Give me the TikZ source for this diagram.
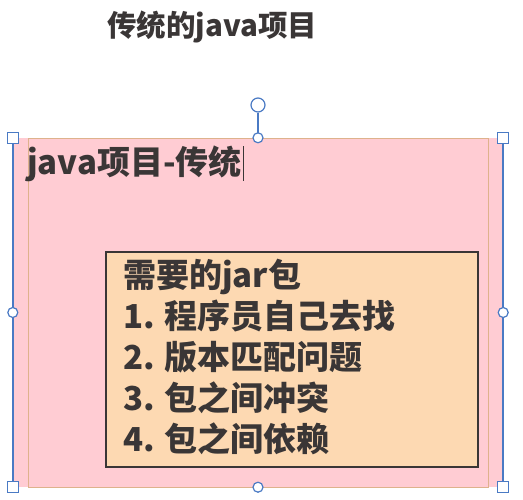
\documentclass[tikz,border=0pt]{standalone}
\usepackage{fontspec}
\usepackage{tikz}
\newfontfamily\cjk{Noto Sans CJK SC}
\definecolor{boxPink}{RGB}{255, 204, 211}
\definecolor{boxPeach}{RGB}{253, 217, 178}
\definecolor{edgeTan}{RGB}{222, 178, 140}
\definecolor{selBlue}{RGB}{74, 122, 196}
\definecolor{inkGray}{RGB}{58, 54, 54}

\begin{document}
\begin{tikzpicture}[x=1pt, y=-1pt,
    txt/.style={text=inkGray, inner sep=0pt, anchor=base west, font=\cjk\bfseries},
    sqhandle/.style={draw=selBlue, fill=white, line width=1.2pt, minimum size=11pt, inner sep=0pt},
    rdhandle/.style={circle, draw=selBlue, fill=white, line width=1.2pt, minimum size=10pt, inner sep=0pt}]
        \useasboundingbox (0,0) rectangle (523,499);
        \node[txt, font=\cjk\bfseries\fontsize{29.5}{29.5}\selectfont] (title) at (107,36) {传统的java项目};
        % the selected shape
        \node[fill=boxPink, minimum width=490pt, minimum height=349pt, inner sep=0pt] (proj) at (258,312.5) {};
        \node[draw=edgeTan, line width=1pt, minimum width=460pt, minimum height=349pt, inner sep=0pt] (edge) at (258,312.5) {};
        \draw[selBlue, line width=1.5pt] (proj.north west) -- (proj.south west);
        \draw[selBlue, line width=1.5pt] (proj.north east) -- (proj.south east);
        \node[txt, font=\cjk\bfseries\fontsize{33}{33}\selectfont] (head) at (27,174) {java项目-传统};
        \draw[inkGray, line width=0.8pt] ([xshift=1pt]head.east) ++(0,-17) -- ++(0,35);
        % inner list box
        \node[draw=inkGray, fill=boxPeach, line width=2.5pt, minimum width=372pt, minimum height=215pt, inner sep=0pt] (jars) at (292,359.5) {};
        \foreach \t [count=\i from 0] in {需要的jar包, 1. 程序员自己去找, 2. 版本匹配问题, 3. 包之间冲突, 4. 包之间依赖}
          \node[txt, font=\cjk\bfseries\fontsize{33}{33}\selectfont] (line\i) at (123,287+41*\i) {\t};
        % handles
        \node[rdhandle, minimum size=14pt] (rot) at (258,105) {};
        \draw[selBlue, line width=1.5pt] (rot) -- (proj.north);
        \foreach \a in {north west, north east, south west, south east}
          \node[sqhandle] at (proj.\a) {};
        \foreach \a in {north, south, west, east}
          \node[rdhandle] at (proj.\a) {};
      \end{tikzpicture}
\end{document}
